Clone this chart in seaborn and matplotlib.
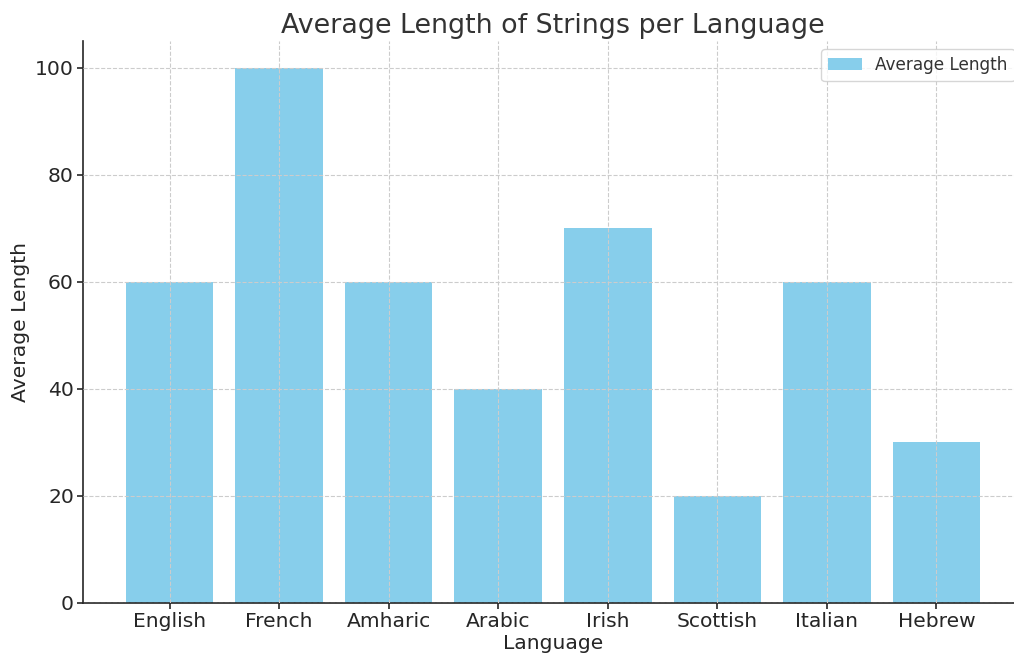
import matplotlib
matplotlib.use("Agg")
import matplotlib.pyplot as plt
import seaborn as sns
import pandas as pd

languages = ["English", "French", "Amharic", "Arabic", "Irish", "Scottish", "Italian", "Hebrew"]
avg_length = [60, 100, 60, 40, 70, 20, 60, 30]

df = pd.DataFrame({"Language": languages, "Average Length": avg_length})

sns.set_style("white")
plt.rcParams["font.family"] = ["DejaVu Sans"]
text_color = "#333333"
tick_color = "#262626"

fig = plt.figure(figsize=(10.14, 6.55), dpi=100)
ax = fig.add_axes([83 / 1014, 1 - 603 / 655, (1023 - 83) / 1014, (603 - 41) / 655])

sns.barplot(data=df, x="Language", y="Average Length", color="skyblue",
            saturation=1, width=0.8, label="Average Length", ax=ax, zorder=1,
            linewidth=0, edgecolor="none")

ax.set_xlim(-0.79, 7.79)
ax.set_ylim(0, 105)
ax.set_axisbelow(False)
ax.grid(True, linestyle="--", color="#cccccc", linewidth=0.8, zorder=3)
for s in ["top", "right"]:
    ax.spines[s].set_visible(False)
for s in ["left", "bottom"]:
    ax.spines[s].set_color(tick_color)
    ax.spines[s].set_linewidth(1.2)

ax.tick_params(axis="both", labelsize=14.6, colors=tick_color, labelcolor=tick_color,
               length=4, width=1.2, bottom=True, left=True, pad=2.5)
ax.set_xlabel("Language", fontsize=14.6, color=tick_color, labelpad=2)
ax.set_ylabel("Average Length", fontsize=14.6, color=tick_color, labelpad=4)
ax.set_title("Average Length of Strings per Language", fontsize=19.4, color=text_color, pad=6)

leg = ax.legend(loc="upper right", fontsize=12.2, frameon=True, fancybox=True,
                labelcolor=text_color)
leg.get_frame().set_edgecolor("#cccccc")

fig.savefig("out.png", dpi=100)
